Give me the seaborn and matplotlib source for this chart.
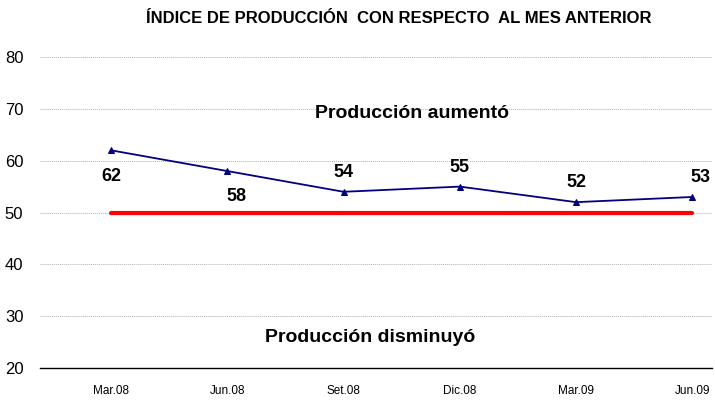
import seaborn as sns
import matplotlib.pyplot as plt
import pandas as pd

# datos
periodos = ["Mar.08", "Jun.08", "Set.08", "Dic.08", "Mar.09", "Jun.09"]
indice = [62, 58, 54, 55, 52, 53]
umbral = [50, 50, 50, 50, 50, 50]
y_ticks = [20, 30, 40, 50, 60, 70, 80]

df = pd.DataFrame({"periodo": periodos, "indice": indice, "umbral": umbral})
df["x"] = range(len(periodos))

sns.set_style("white")
plt.rcParams["font.family"] = ["Liberation Sans", "DejaVu Sans"]
plt.rcParams["text.color"] = "black"
plt.rcParams["xtick.color"] = "black"
plt.rcParams["ytick.color"] = "black"

fig = plt.figure(figsize=(7.15, 4.01), dpi=100)
ax = fig.add_axes([0.056, 0.082, 0.94, 0.776])

sns.lineplot(data=df, x="x", y="umbral", color="#ff0000", linewidth=3, ax=ax)
sns.lineplot(data=df, x="x", y="indice", color="#000080", linewidth=1.3,
             marker="^", markersize=5, markeredgecolor="#000080", ax=ax)

# etiquetas de datos (arriba o abajo del punto)
offsets = [-19, -18, 14, 14, 14, 14]
dx = [0, 0.08, 0, 0, 0, 0.07]
for i, (v, off) in enumerate(zip(indice, offsets)):
    ax.annotate(str(v), (i + dx[i], v), xytext=(0, off), textcoords="offset points",
                ha="center", va="center", fontsize=13, fontweight="bold", color="black")

ax.text(2.59, 69.0, "Producción aumentó", ha="center", va="center", fontsize=14,
        fontweight="bold", color="black")
ax.text(2.23, 26.0, "Producción disminuyó", ha="center", va="center", fontsize=14,
        fontweight="bold", color="black")

ax.set_xlim(-0.61, 5.17)
ax.set_ylim(20, 80)
ax.set_yticks(y_ticks)
ax.set_xticks(df["x"])
ax.set_xticklabels(periodos, fontsize=8.5)
ax.tick_params(axis="y", labelsize=12, length=0, pad=12)
ax.tick_params(axis="x", length=0, pad=12)
ax.set_xlabel("")
ax.set_ylabel("")
for y in y_ticks[1:]:
    ax.axhline(y, color="#b0b0b0", linestyle=(0, (1, 1)), linewidth=0.7, zorder=0)
for s in ["left", "right", "top"]:
    ax.spines[s].set_visible(False)
ax.spines["bottom"].set_color("black")
ax.spines["bottom"].set_linewidth(1)

fig.text(0.558, 0.955, "ÍNDICE DE PRODUCCIÓN  CON RESPECTO  AL MES ANTERIOR",
         ha="center", va="center", fontsize=12, fontweight="bold", color="black")

fig.savefig("out.png", dpi=100)
